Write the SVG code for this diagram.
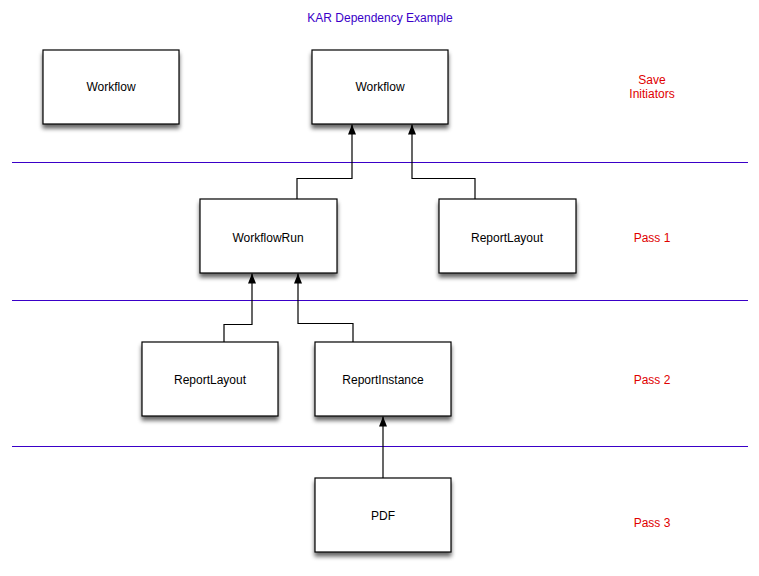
<svg xmlns="http://www.w3.org/2000/svg" width="759" height="576" viewBox="0 0 759 576">
<defs>
<filter id="sh" x="-10%" y="-10%" width="130%" height="140%">
<feGaussianBlur in="SourceAlpha" stdDeviation="2"/>
<feOffset dx="0" dy="4" result="b"/>
<feComponentTransfer><feFuncA type="linear" slope="0.6"/></feComponentTransfer>
<feMerge><feMergeNode/><feMergeNode in="SourceGraphic"/></feMerge>
</filter>
<marker id="ah" viewBox="0 0 10 10" refX="10" refY="5" markerWidth="10" markerHeight="10" markerUnits="userSpaceOnUse" orient="auto">
<path d="M0,1 L10,5 L0,9 z" fill="#000"/>
</marker>
<style>
.box{fill:#fff;stroke:#000;stroke-width:1.2;filter:url(#sh)}
.lbl{font-family:"Liberation Sans",Arial,sans-serif;font-size:12px;fill:#000;text-anchor:middle}
.side{font-family:"Liberation Sans",Arial,sans-serif;font-size:12px;fill:#e00000;text-anchor:middle}
.sep{stroke:#3a00c8;stroke-width:1}
.con{fill:none;stroke:#000;stroke-width:1.2;marker-end:url(#ah)}
</style>
</defs>
<rect width="759" height="576" fill="#fff"/>
<text x="380" y="22" font-family="'Liberation Sans',Arial,sans-serif" font-size="12" fill="#3a00c8" text-anchor="middle">KAR Dependency Example</text>
<g id="separators">
<line class="sep" x1="12" y1="162.5" x2="748" y2="162.5"/>
<line class="sep" x1="12" y1="300.5" x2="748" y2="300.5"/>
<line class="sep" x1="12" y1="446.5" x2="748" y2="446.5"/>
</g>
<g id="connectors">
<path class="con" d="M297,199 V178.5 H352 V124.5"/>
<path class="con" d="M475,199 V178.5 H412 V124.5"/>
<path class="con" d="M224,342 V324.5 H252 V273.5"/>
<path class="con" d="M353,342 V323.5 H298 V273.5"/>
<path class="con" d="M383,478 V416.5"/>
</g>
<g id="workflow1"><rect class="box" x="43" y="50" width="136" height="74"/><text class="lbl" x="111" y="91">Workflow</text></g>
<g id="workflow2"><rect class="box" x="312" y="50" width="136" height="74"/><text class="lbl" x="380" y="91">Workflow</text></g>
<g id="workflowrun"><rect class="box" x="200" y="199" width="137" height="74"/><text class="lbl" x="268" y="242">WorkflowRun</text></g>
<g id="reportlayout1"><rect class="box" x="439" y="199" width="137" height="74"/><text class="lbl" x="507" y="242">ReportLayout</text></g>
<g id="reportlayout2"><rect class="box" x="142" y="342" width="136" height="74"/><text class="lbl" x="210" y="384">ReportLayout</text></g>
<g id="reportinstance"><rect class="box" x="315" y="342" width="136" height="74"/><text class="lbl" x="383" y="384">ReportInstance</text></g>
<g id="pdf"><rect class="box" x="315" y="478" width="136" height="74"/><text class="lbl" x="383" y="520">PDF</text></g>
<g id="sidelabels">
<text class="side" x="652" y="84">Save</text>
<text class="side" x="652" y="98">Initiators</text>
<text class="side" x="652" y="242">Pass 1</text>
<text class="side" x="652" y="384">Pass 2</text>
<text class="side" x="652" y="527">Pass 3</text>
</g>
</svg>
